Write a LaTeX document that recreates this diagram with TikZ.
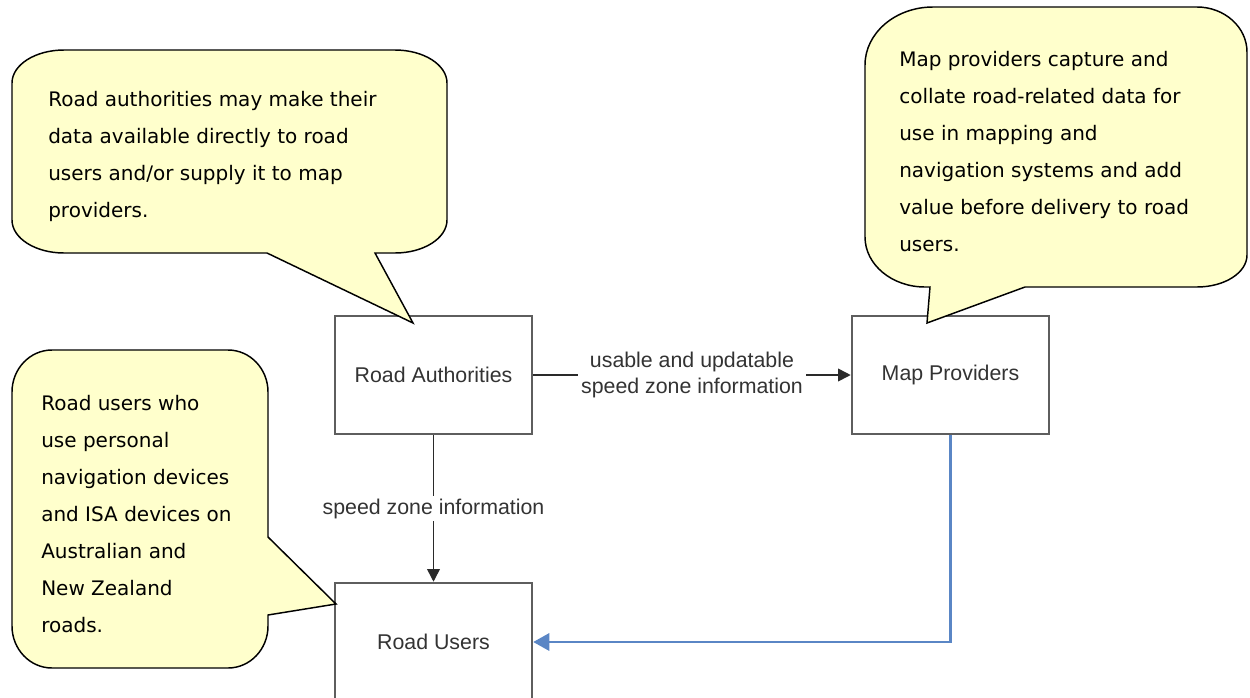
\documentclass[tikz,border=0pt]{standalone}
\usepackage{fontspec}
\setmainfont{Liberation Sans}
\newfontfamily\cfont{DejaVu Sans}
\usetikzlibrary{arrows.meta}
\definecolor{cfill}{HTML}{FFFFCC}
\definecolor{boxline}{HTML}{5E5E5E}
\definecolor{boxtext}{HTML}{333333}
\definecolor{arrline}{HTML}{2A2A2A}
\definecolor{blueline}{HTML}{5A86C5}
\begin{document}
\begin{tikzpicture}[x=0.75pt,y=-0.75pt,
  rbox/.style={draw=boxline,line width=1.9pt,fill=white,minimum width=147.75pt,minimum height=88.5pt,inner sep=0pt,text=boxtext,font=\fontsize{16}{19.5}\selectfont},
  ctext/.style={anchor=north west,inner sep=0pt,align=left,text=black,font=\cfont\fontsize{15}{27.75}\selectfont},
  lbl/.style={fill=white,inner sep=2pt,align=center,text=boxtext,font=\fontsize{16}{19.5}\selectfont},
  arr/.style={draw=arrline,line width=1.2pt,-{Triangle[length=9.5pt,width=9.5pt]}},
  bluearr/.style={draw=blueline,line width=1.6pt,-{Triangle[length=12pt,width=13pt]}},
  callout/.style={draw=black,line width=1.1pt,fill=cfill}]
\useasboundingbox (0,0) rectangle (1250,697);
\clip (0,0) rectangle (1250,697);
% boxes
\node[rbox] (ra) at (433.5,375) {Road Authorities};
\node[rbox] (mp) at (950.5,375) {Map Providers};
\node[rbox] (ru) at (433.5,642) {Road Users};
% connectors
\draw[arr] (ra.east) -- node[lbl] (l1) {usable and updatable\\speed zone information} (mp.west);
\draw[arr] (ra.south) -- node[lbl] (l2) {speed zone information} (ru.north);
\draw[bluearr] (mp.south) |- (ru.east);
% callout 1
\draw[callout] (64,50) -- (395,50) .. controls (423.7,50) and (447,64.8) .. (447,83)
  -- (447,220) .. controls (447,238.2) and (423.7,253) .. (395,253)
  -- (375,253) -- (413,323) -- (267,253) -- (64,253)
  .. controls (35.3,253) and (12,238.2) .. (12,220)
  -- (12,83) .. controls (12,64.8) and (35.3,50) .. (64,50) -- cycle;
% callout 2
\draw[callout] (933,7) -- (1197,7) .. controls (1224.6,7) and (1247,27.2) .. (1247,52)
  -- (1247,255) .. controls (1247,272.7) and (1224.6,287) .. (1197,287)
  -- (1025,287) -- (927,323) -- (930,287) -- (925,287)
  .. controls (891.9,287) and (865,264.6) .. (865,237)
  -- (865,65) .. controls (865,33) and (895.5,7) .. (933,7) -- cycle;
% callout 3
\draw[callout] (52,350) -- (228,350) .. controls (250.1,350) and (268,368.8) .. (268,392)
  -- (268,537) -- (336,604) -- (268,615) -- (268,626)
  .. controls (268,649.2) and (250.1,668) .. (228,668)
  -- (52,668) .. controls (29.9,668) and (12,649.2) .. (12,626)
  -- (12,392) .. controls (12,368.8) and (29.9,350) .. (52,350) -- cycle;
% callout texts
\node[ctext] (t1) at (48,80) {\strut Road authorities may make their\\data available directly to road\\users and/or supply it to map\\providers.};
\node[ctext] (t2) at (899,40) {\strut Map providers capture and\\collate road-related data for\\use in mapping and\\navigation systems and add\\value before delivery to road\\users.};
\node[ctext] (t3) at (41,384) {\strut Road users who\\use personal\\navigation devices\\and ISA devices on\\Australian and\\New Zealand\\roads.};
\end{tikzpicture}
\end{document}
